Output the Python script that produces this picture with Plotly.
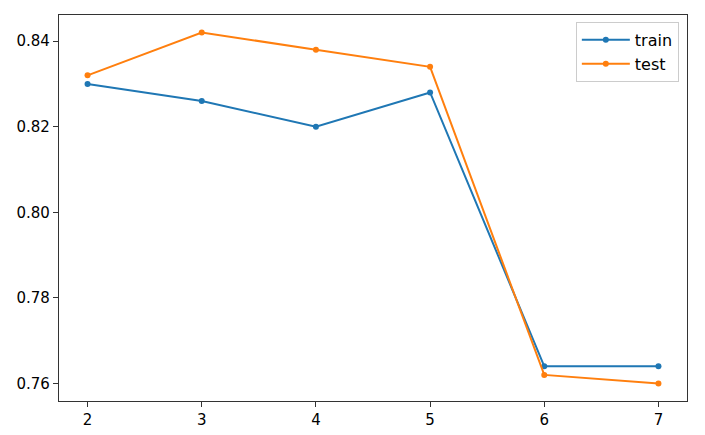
import plotly.graph_objects as go

x_vals = [2, 3, 4, 5, 6, 7]
train = [0.830, 0.826, 0.820, 0.828, 0.764, 0.764]
test = [0.832, 0.842, 0.838, 0.834, 0.762, 0.760]
y_ticks = [0.76, 0.78, 0.80, 0.82, 0.84]
y_tick_text = ["0.76", "0.78", "0.80", "0.82", "0.84"]

fig = go.Figure()
fig.add_trace(go.Scatter(x=x_vals, y=train, name="train", mode="lines+markers",
                         line=dict(color="#1f77b4", width=2),
                         marker=dict(size=6, color="#1f77b4")))
fig.add_trace(go.Scatter(x=x_vals, y=test, name="test", mode="lines+markers",
                         line=dict(color="#ff7f0e", width=2),
                         marker=dict(size=6, color="#ff7f0e")))

font = dict(family="DejaVu Sans", size=15, color="#000000")
fig.update_layout(
    width=705, height=435,
    margin=dict(l=51, r=26, t=7, b=42),
    paper_bgcolor="white", plot_bgcolor="white",
    font=font,
    showlegend=True,
    legend=dict(x=0.987, y=0.982, xanchor="right", yanchor="top",
                bgcolor="rgba(255,255,255,0.8)", bordercolor="#cccccc", borderwidth=1,
                font=dict(family="DejaVu Sans", size=16, color="#000000"),
                itemwidth=48, tracegroupgap=2),
    xaxis=dict(range=[1.75, 7.25], tickmode="array", tickvals=x_vals,
               showgrid=False, zeroline=False, showline=True, mirror=True,
               linecolor="#333333", linewidth=1.2, ticks="outside", ticklen=5,
               tickcolor="#333333", tickfont=font),
    yaxis=dict(range=[0.7559, 0.8461], tickmode="array", tickvals=y_ticks,
               ticktext=y_tick_text,
               showgrid=False, zeroline=False, showline=True, mirror=True,
               linecolor="#333333", linewidth=1.2, ticks="outside", ticklen=5,
               tickcolor="#333333", tickfont=font),
)
fig.write_html("out.html")
